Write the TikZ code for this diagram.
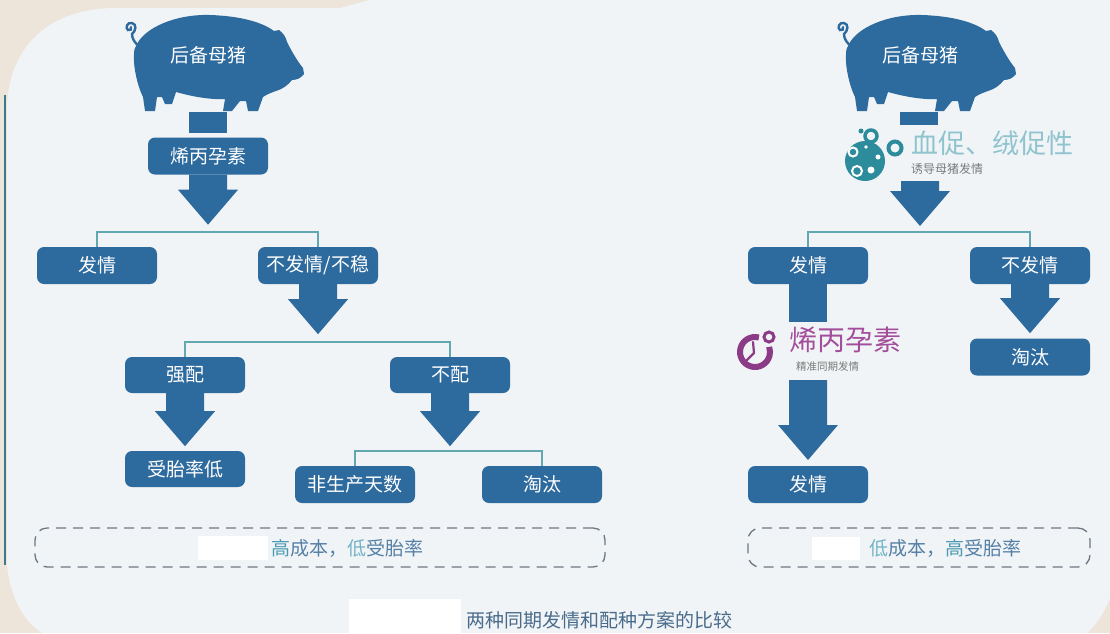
\documentclass[tikz,border=0pt]{standalone}
\usepackage{fontspec}
\newfontfamily\cjk{Noto Sans CJK SC}
\definecolor{beigebg}{HTML}{EDE4DA}
\definecolor{lightbg}{HTML}{F1F4F6}
\definecolor{boxblue}{HTML}{2D6A9E}
\definecolor{branchteal}{HTML}{63A7B1}
\definecolor{leftline}{HTML}{3D7A8E}
\definecolor{dashgrey}{HTML}{6E7780}
\definecolor{captioncol}{HTML}{4A6C8C}
\definecolor{tealtext}{HTML}{8FC4CF}
\definecolor{iconteal}{HTML}{2D8C9C}
\definecolor{purpletext}{HTML}{A24E9B}
\definecolor{iconpurple}{HTML}{8C3C86}
\definecolor{subgrey}{HTML}{7A7A7A}
\definecolor{costteal}{HTML}{4B9AB2}
\definecolor{costlight}{HTML}{72B4C4}
\definecolor{costblue}{HTML}{5580A6}

\pgfdeclarelayer{paper}
\pgfdeclarelayer{links}
\pgfsetlayers{paper,links,main}

% block arrow pointing down: start point, shaft length
\newcommand{\fatarrow}[2]{%
  \fill[boxblue] (#1) ++(-19,0) -- ++(38,0) -- ++(0,#2) -- ++(11,0)
    -- ++(-30,35) -- ++(-30,-35) -- ++(11,0) -- cycle;}

% pig silhouette with curly tail
\newcommand{\pigshape}{%
  \fill[boxblue] (137,44) .. controls (145,28) and (175,14) .. (210,15)
    .. controls (240,16) and (262,22) .. (274,31)
    -- (279,30) .. controls (283,33) and (286,37) .. (287,42)
    .. controls (292,52) and (298,62) .. (303,68)
    -- (304,74) .. controls (301,78) and (297,80) .. (292,80)
    .. controls (288,85) and (283,89) .. (276,91)
    .. controls (270,93) and (266,95) .. (263,97)
    -- (258,111) -- (248,111) -- (246,101)
    -- (240,101) -- (232,111) -- (223,111) -- (225,99)
    .. controls (210,100) and (190,96) .. (176,92)
    -- (172,104) -- (165,104) -- (162,97) -- (157,97)
    -- (155,111) -- (145,111) -- (143,97)
    .. controls (137,85) and (133,65) .. (134,54)
    .. controls (134,50) and (135,47) .. (137,44) -- cycle;
  \draw[boxblue, line width=2.4pt, line cap=round]
    (139,46) .. controls (135,43) and (132,39) .. (132,34)
    .. controls (136,31) and (137,24) .. (132,23)
    .. controls (127,22) and (125,28) .. (128,30)
    .. controls (130,31) and (132,29) .. (131,27);}

\begin{document}
\begin{tikzpicture}[x=1pt,y=-1pt,
  flowbox/.style={fill=boxblue, rounded corners=7pt, minimum width=120pt,
    minimum height=37pt, inner sep=0pt, text=white,
    font=\cjk\fontsize{19}{22}\selectfont},
  pigtext/.style={text=white, inner sep=0pt, font=\cjk\fontsize{19}{22}\selectfont},
  branch/.style={draw=branchteal, line width=2.6pt},
  stem/.style={draw=boxblue, line width=38pt},
  dashbox/.style={draw=dashgrey, dash pattern=on 10pt off 7pt, line width=1.3pt,
    rounded corners=12pt, inner sep=0pt},
  costtext/.style={inner sep=0pt, anchor=west, font=\cjk\fontsize{19}{22}\selectfont},
  patch/.style={fill=white, draw=none}]

\useasboundingbox (0,0) rectangle (1110,633);

% page background and card
\begin{pgfonlayer}{paper}
\fill[beigebg] (0,0) rectangle (1110,633);
\fill[lightbg] (7,105) .. controls (10,45) and (50,8) .. (117,8) -- (340,8) -- (370,0)
  -- (1110,0) -- (1110,598) .. controls (1103,615) and (1096,625) .. (1087,633)
  -- (42,633) .. controls (22,620) and (10,595) .. (7,565) -- cycle;
\draw[leftline, line width=2.5pt] (5,95) -- (5,565);
\end{pgfonlayer}

% ---------------- left scheme ----------------
\pigshape
\node[pigtext] (pigL) at (208,55) {后备母猪};
\coordinate (pigLfeet) at (208,112);

\node[flowbox] (b1) at (208,156) {烯丙孕素};
\node[flowbox] (b2) at (97,265.5) {发情};
\node[flowbox] (b3) at (318,265.5) {不发情/不稳};
\node[flowbox, minimum height=36pt] (b4) at (185,375) {强配};
\node[flowbox, minimum height=36pt] (b5) at (450,375) {不配};
\node[flowbox, minimum height=36pt] (b6) at (185,469) {受胎率低};
\node[flowbox] (b7) at (355,484.5) {非生产天数};
\node[flowbox] (b8) at (542,484.5) {淘汰};

\begin{pgfonlayer}{links}
\draw[branch] (b2.north) -- ++(0,-15) -| (b3.north);
\draw[branch] (b4.north) -- ++(0,-15) -| (b5.north);
\draw[branch] (b7.north) -- ++(0,-15) -| (b8.north);
\end{pgfonlayer}

\draw[stem, shorten >=4pt] (pigLfeet) -- (b1.north);
\fatarrow{b1.south}{15}
\fatarrow{b3.south}{15}
\fatarrow{b4.south}{18}
\fatarrow{b5.south}{18}

\node[dashbox, minimum width=570pt, minimum height=39pt] (sumL) at (320,547.5) {};
\fill[patch] (198,536) rectangle (268,560);
\node[costtext] (costL) at (271,548)
  {\textcolor{costteal}{高}\textcolor{costblue}{成本，}\textcolor{costlight}{低}\textcolor{costblue}{受胎率}};

% ---------------- right scheme ----------------
\begin{scope}[xshift=712pt]
  \pigshape
\end{scope}
\node[pigtext] (pigR) at (920,55) {后备母猪};
\coordinate (pigRfeet) at (919,112);
\coordinate (teallabelTop) at (919,125);
\draw[stem] (pigRfeet) -- (teallabelTop);

% teal cell icon
\fill[iconteal] (865,161) circle[radius=20pt];
\draw[white, line width=2pt] (853,152) circle[radius=4.5pt];
\draw[white, line width=2pt] (857,171) circle[radius=5pt];
\fill[white] (871,170) circle[radius=3.5pt];
\fill[white] (878,157) circle[radius=2.5pt];
\fill[white] (866,147) circle[radius=1.8pt];
\draw[iconteal, line width=3.5pt] (871,136) circle[radius=6pt];
\fill[iconteal] (861,131) circle[radius=2.5pt];
\draw[iconteal, line width=4pt] (895,148) circle[radius=6.5pt];
\node[inner sep=0pt, anchor=west, text=tealtext, font=\cjk\fontsize{27}{30}\selectfont]
  (hormone1) at (911,143) {血促、绒促性};
\node[inner sep=0pt, anchor=west, text=subgrey, font=\cjk\fontsize{12}{14}\selectfont]
  (hormone1sub) at (911,169) {诱导母猪发情};
\coordinate (hormone1out) at (920,181);
\fatarrow{hormone1out}{10}

\node[flowbox] (r1) at (808,265.5) {发情};
\node[flowbox] (r2) at (1030,265.5) {不发情};
\node[flowbox] (r3) at (1030,357) {淘汰};
\node[flowbox] (r4) at (808,484.5) {发情};
\begin{pgfonlayer}{links}
\draw[branch] (r1.north) -- ++(0,-15) -| (r2.north);
\end{pgfonlayer}
\fatarrow{r2.south}{14}

\coordinate (purpleTop) at (808,322);
\draw[stem] (r1.south) -- (purpleTop);

% purple clock icon
\draw[iconpurple, line width=6pt] ([shift={(75:15pt)}]755,352) arc[start angle=75, end angle=380, radius=15pt];
\draw[iconpurple, line width=3pt] (769,337) circle[radius=5pt];
\draw[iconpurple, line width=2.2pt, line cap=round] (754,353) -- (753,342);
\draw[iconpurple, line width=2.2pt, line cap=round] (754,353) -- (747,360);
\node[inner sep=0pt, anchor=west, text=purpletext, font=\cjk\fontsize{28}{30}\selectfont]
  (hormone2) at (789,340) {烯丙孕素};
\node[inner sep=0pt, anchor=west, text=subgrey, font=\cjk\fontsize{10.5}{12}\selectfont]
  (hormone2sub) at (796,366) {精准同期发情};
\coordinate (hormone2out) at (808,380);
\fatarrow{hormone2out}{45}

\node[dashbox, minimum width=342pt, minimum height=39pt] (sumR) at (919,547.5) {};
\fill[patch] (812,537) rectangle (860,560);
\node[costtext] (costR) at (869,548)
  {\textcolor{costlight}{低}\textcolor{costblue}{成本，}\textcolor{costteal}{高}\textcolor{costblue}{受胎率}};

% caption
\fill[patch] (349,599) rectangle (461,633);
\node[inner sep=0pt, anchor=west, text=captioncol, font=\cjk\fontsize{19}{22}\selectfont]
  (caption) at (466,620) {两种同期发情和配种方案的比较};
\end{tikzpicture}
\end{document}
